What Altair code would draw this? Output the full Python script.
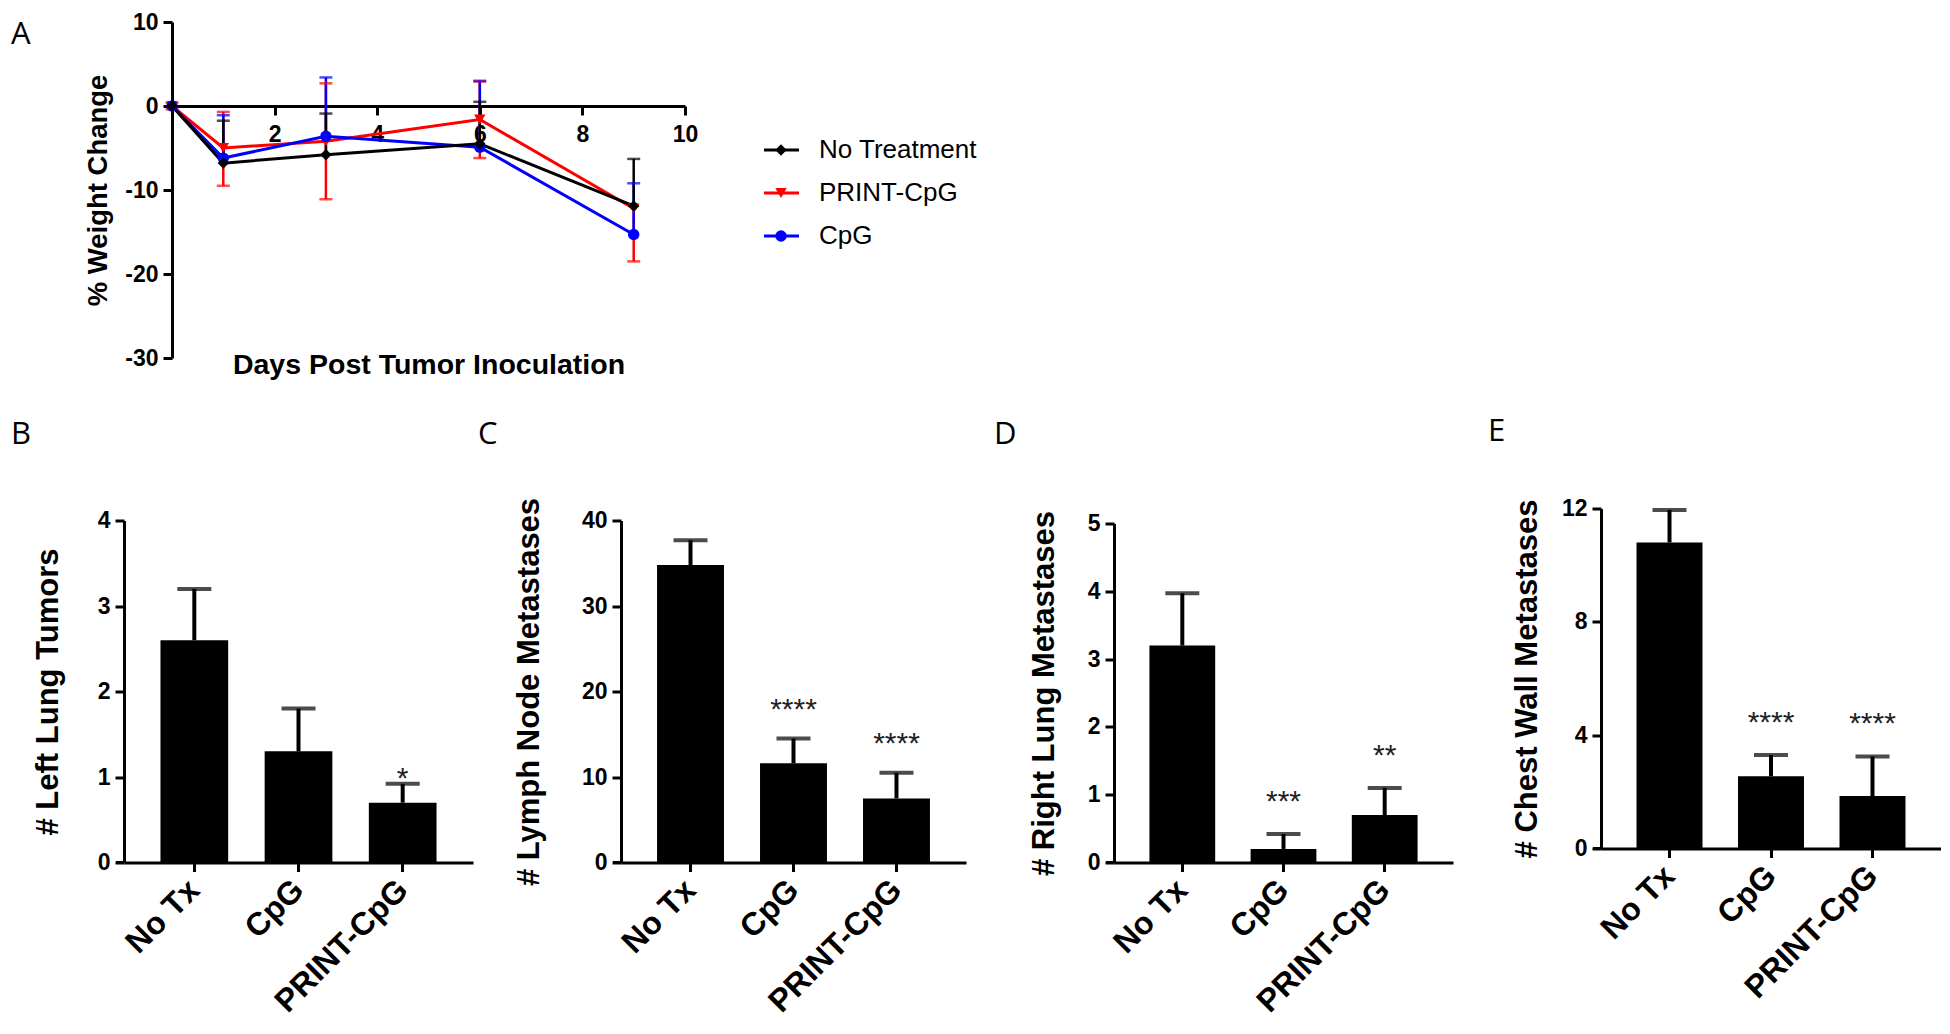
import altair as alt
import pandas as pd

FONT = "Liberation Sans, Arial, Helvetica, sans-serif"
LETTER_FONT = "Open Sans, DejaVu Sans, sans-serif"

# ---------------- Panel A data ----------------
days = [0, 1, 3, 6, 9]
series_order = ["No Treatment", "PRINT-CpG", "CpG"]
series_colors = ["#000000", "#ff0000", "#0000ff"]
series_shapes = ["diamond", "triangle-down", "circle"]

nt_mean = [0.0, -6.8, -5.8, -4.5, -11.9]
nt_upper = [0.0, -1.75, -0.9, 0.5, -6.3]
nt_lower = [0.0, -6.8, -5.8, -4.5, -11.9]

pc_mean = [0.0, -5.0, -4.2, -1.6, -12.2]
pc_upper = [0.4, -0.7, 2.7, 2.9, -12.2]
pc_lower = [-0.4, -9.5, -11.1, -6.2, -18.5]

cpg_mean = [0.0, -6.2, -3.6, -4.9, -15.3]
cpg_upper = [0.0, -1.1, 3.4, 3.0, -9.2]
cpg_lower = [0.0, -6.2, -3.6, -4.9, -15.3]

# ---------------- Panels B-E data ----------------
categories = ["No Tx", "CpG", "PRINT-CpG"]

left_lung_mean = [2.6, 1.3, 0.7]
left_lung_upper = [3.2, 1.8, 0.92]
left_lung_stars = ["", "", "*"]

lymph_mean = [34.8, 11.6, 7.5]
lymph_upper = [37.7, 14.5, 10.5]
lymph_stars = ["", "****", "****"]

right_lung_mean = [3.2, 0.2, 0.7]
right_lung_upper = [3.97, 0.42, 1.1]
right_lung_stars = ["", "***", "**"]

chest_mean = [10.8, 2.55, 1.85]
chest_upper = [11.95, 3.3, 3.25]
chest_stars = ["", "****", "****"]


def letter_layer(letter, x, y):
    return alt.Chart(pd.DataFrame({"label": [letter]})).mark_text(
        align="left", baseline="alphabetic", font=LETTER_FONT, fontSize=31, color="black"
    ).encode(x=alt.value(x), y=alt.value(y), text="label:N")


# ---------------- Panel A ----------------
rows = []
for name, m, hi, lo in [("PRINT-CpG", pc_mean, pc_upper, pc_lower),
                        ("CpG", cpg_mean, cpg_upper, cpg_lower),
                        ("No Treatment", nt_mean, nt_upper, nt_lower)]:
    for d, mm, h, l in zip(days, m, hi, lo):
        rows.append({"series": name, "day": d, "mean": mm, "upper": h, "lower": l})
dfA = pd.DataFrame(rows)

A_W, A_H = 561, 336
color = alt.Color("series:N", scale=alt.Scale(domain=series_order, range=series_colors), legend=None)
shape = alt.Shape("series:N", scale=alt.Scale(domain=series_order, range=series_shapes), legend=None)

xA_scale = alt.Scale(domain=[0, 10], range=[48, A_W], nice=False, zero=False)
xA_axis = alt.Axis(values=[2, 4, 6, 8, 10], offset=-252, title="Days Post Tumor Inoculation",
                   titleY=267, titleBaseline="alphabetic", titleFontSize=28.5,
                   labelFontSize=23, labelPadding=8, labelFlush=False, labelAngle=0, tickSize=9)
yA_scale = alt.Scale(domain=[-30, 10], nice=False, zero=False)
yA_axis = alt.Axis(values=[-30, -20, -10, 0, 10], offset=-48, title="% Weight Change",
                   titleX=-66, titleBaseline="alphabetic", titleFontSize=27.5,
                   labelFontSize=23, labelPadding=5, tickSize=9, labelExpr="'' + datum.value")

xA = alt.X("day:Q", scale=xA_scale, axis=xA_axis)
baseA = alt.Chart(dfA)
errA = baseA.mark_rule(strokeWidth=2.5).encode(
    x=xA, y=alt.Y("lower:Q", scale=yA_scale, axis=yA_axis), y2="upper:Q", color=color)
capHi = baseA.mark_tick(thickness=2.5, size=13, orient="horizontal").encode(
    x=xA, y=alt.Y("upper:Q", scale=yA_scale, axis=yA_axis), color=color
).transform_filter("datum.upper != datum.mean")
capLo = baseA.mark_tick(thickness=2.5, size=13, orient="horizontal").encode(
    x=xA, y=alt.Y("lower:Q", scale=yA_scale, axis=yA_axis), color=color
).transform_filter("datum.lower != datum.mean")
lineA = baseA.mark_line(strokeWidth=3).encode(
    x=xA, y=alt.Y("mean:Q", scale=yA_scale, axis=yA_axis), color=color)
ptsA = baseA.mark_point(filled=True, opacity=1, size=130).encode(
    x=xA, y=alt.Y("mean:Q", scale=yA_scale, axis=yA_axis), color=color, shape=shape)
mainA = alt.layer(errA, capHi, capLo, lineA, ptsA)

leg_df = pd.DataFrame({"series": series_order})
leg_y = alt.Y("series:N", scale=alt.Scale(type="point", domain=series_order, range=[128, 214], padding=0), axis=None)
leg_base = alt.Chart(leg_df)
leg_rule = leg_base.mark_rule(strokeWidth=3).encode(x=alt.value(640), x2=alt.value(675), y=leg_y, color=color)
leg_pt = leg_base.mark_point(filled=True, opacity=1, size=130).encode(x=alt.value(657), y=leg_y, color=color, shape=shape)
leg_txt = leg_base.mark_text(align="left", baseline="middle", fontSize=26, font=FONT, color="black").encode(
    x=alt.value(695), y=leg_y, text="series:N")
legA = alt.layer(leg_rule, leg_pt, leg_txt, letter_layer("A", -113, 22))

panelA = alt.layer(mainA, legA).resolve_scale(y="independent").properties(width=A_W, height=A_H)


# ---------------- Bar panels ----------------
def bar_panel(letter, mean, upper, stars, ytitle, ymax, yticks, width, height, yrange,
              title_x, letter_x, letter_y, star_dy):
    df = pd.DataFrame({"group": categories, "mean": mean, "upper": upper, "stars": stars})
    x = alt.X("group:N", sort=categories,
              scale=alt.Scale(paddingInner=0.35, paddingOuter=0.35),
              axis=alt.Axis(title=None, labelAngle=-45, labelAlign="right", labelBaseline="middle",
                            labelFontSize=32, labelPadding=13, tickSize=9, labelOverlap=False,
                            labelLimit=400))
    sc_kw = dict(domain=[0, ymax], nice=False, zero=True)
    if yrange is not None:
        sc_kw["range"] = yrange
    ysc = alt.Scale(**sc_kw)
    yax = alt.Axis(values=yticks, title=ytitle, titleX=title_x, titleBaseline="alphabetic",
                   titleFontSize=31, labelFontSize=23, labelPadding=5, tickSize=9,
                   labelExpr="'' + datum.value")
    base = alt.Chart(df)
    bars = base.mark_bar(color="black").encode(x=x, y=alt.Y("mean:Q", scale=ysc, axis=yax))
    err = base.mark_rule(color="black", strokeWidth=4).encode(
        x=x, y=alt.Y("mean:Q", scale=ysc, axis=yax), y2="upper:Q")
    cap = base.mark_tick(color="black", thickness=4, size=34, orient="horizontal").encode(
        x=x, y=alt.Y("upper:Q", scale=ysc, axis=yax))
    star = base.mark_text(color="#222222", fontSize=30, font=FONT, baseline="alphabetic",
                          align="center", dy=star_dy).encode(
        x=x, y=alt.Y("upper:Q", scale=ysc, axis=yax), text="stars:N")
    ext = alt.Chart(pd.DataFrame({"z": [0]})).mark_rule(color="black", strokeWidth=3).encode(
        x=alt.value(-8), x2=alt.value(0), y=alt.datum(0))
    return alt.layer(bars, err, cap, star, ext, letter_layer(letter, letter_x, letter_y)).properties(
        width=width, height=height)


panelB = bar_panel("B", left_lung_mean, left_lung_upper, left_lung_stars, "# Left Lung Tumors",
                   4, [0, 1, 2, 3, 4], 349, 354, [354, 12], -67, -113, -65, 4)
panelC = bar_panel("C", lymph_mean, lymph_upper, lymph_stars, "# Lymph Node Metastases",
                   40, [0, 10, 20, 30, 40], 345, 354, [354, 12], -83, -143, -65, -20)
panelD = bar_panel("D", right_lung_mean, right_lung_upper, right_lung_stars, "# Right Lung Metastases",
                   5, [0, 1, 2, 3, 4, 5], 339, 354, [354, 15], -61, -120, -65, -23)
panelE = bar_panel("E", chest_mean, chest_upper, chest_stars, "# Chest Wall Metastases",
                   12, [0, 4, 8, 12], 340, 340, None, -65, -113, -68, -23)

row2 = alt.hconcat(panelB, panelC, panelD, panelE, spacing=148, bounds="flush")

chart = alt.vconcat(panelA, row2, spacing=150.5, bounds="flush").properties(
    padding={"top": 3, "left": 3, "right": 0, "bottom": 0}
).configure_view(stroke=None).configure_axis(
    grid=False, domainColor="black", tickColor="black", labelColor="black", titleColor="black",
    labelFont=FONT, titleFont=FONT, labelFontWeight="bold", titleFontWeight="bold",
    domainWidth=3, tickWidth=3
)

chart.save("out.html", embed_options={"renderer": "svg", "actions": False})
